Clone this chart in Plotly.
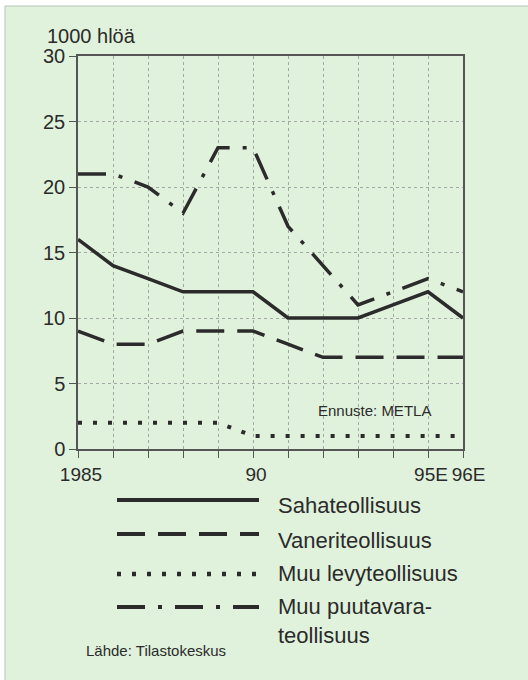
import plotly.graph_objects as go

years = list(range(1985, 1997))
tick_labels = ["1985", "", "", "", "", "90", "", "", "", "", "95E", "\u00a096E"]
saha = [16, 14, 13, 12, 12, 12, 10, 10, 10, 11, 12, 10]
vaneri = [9, 8, 8, 9, 9, 9, 8, 7, 7, 7, 7, 7]
muu_levy = [2, 2, 2, 2, 2, 1, 1, 1, 1, 1, 1, 1]
muu_puu = [21, 21, 20, 18, 23, 23, 17, 14, 11, 12, 13, 12]
names = ["Sahateollisuus", "Vaneriteollisuus", "Muu levyteollisuus", "Muu puutavara-<br>teollisuus"]

W, H = 528, 680
L, R, T, B = 78, 463, 56, 449
FONT = "Liberation Sans, Arial, sans-serif"
INK = "#2b2b2b"
GREEN = "#e0f2dc"
GRID = "#a4a8a4"

def px(x):
    return (x - L) / (R - L)

def py(y):
    return (B - y) / (B - T)

styles = [
    dict(width=3.5, dash="solid"),
    dict(width=3.5, dash="28px,13px"),
    dict(width=4, dash="4px,11px"),
    dict(width=3.5, dash="28px,13px,4px,13px"),
]
series = [saha, vaneri, muu_levy, muu_puu]

fig = go.Figure()
for vals, st, nm in zip(series, styles, names):
    fig.add_trace(go.Scatter(x=years, y=vals, mode="lines", name=nm,
                             line=dict(color=INK, width=st["width"], dash=st["dash"]),
                             showlegend=False, hoverinfo="skip"))

shapes = [
    dict(type="rect", xref="paper", yref="paper", x0=px(5), x1=px(540), y0=py(700), y1=py(6),
         fillcolor=GREEN, line=dict(color="#b8c4b6", width=1), layer="below"),
]
annotations = []

leg_y = [500, 534, 574, 607]
txt_y = [506, 540, 573, 605]
for i, (st, nm) in enumerate(zip(styles, names)):
    shapes.append(dict(type="line", xref="paper", yref="paper", x0=px(117), x1=px(259),
                       y0=py(leg_y[i]), y1=py(leg_y[i]),
                       line=dict(color=INK, width=st["width"] + 0.5, dash=st["dash"])))
    annotations.append(dict(xref="paper", yref="paper", x=px(276), y=py(txt_y[i]),
                            text=nm, showarrow=False, xanchor="left",
                            yanchor="top" if i == 3 else "middle",
                            yshift=13 if i == 3 else 0,
                            align="left",
                            font=dict(family=FONT, size=22, color=INK)))

annotations.append(dict(xref="paper", yref="paper", x=px(45), y=py(36), text="1000 hlöä",
                        showarrow=False, xanchor="left", yanchor="middle",
                        font=dict(family=FONT, size=20, color=INK)))
annotations.append(dict(xref="paper", yref="paper", x=px(316), y=py(410), text="Ennuste: METLA",
                        showarrow=False, xanchor="left", yanchor="middle",
                        font=dict(family=FONT, size=15, color=INK)))
annotations.append(dict(xref="paper", yref="paper", x=px(84), y=py(650), text="Lähde: Tilastokeskus",
                        showarrow=False, xanchor="left", yanchor="middle",
                        font=dict(family=FONT, size=15, color=INK)))

fig.update_layout(
    width=W, height=H,
    margin=dict(l=L, r=W - R, t=T, b=H - B),
    paper_bgcolor="white",
    plot_bgcolor="rgba(0,0,0,0)",
    shapes=shapes,
    annotations=annotations,
    font=dict(family=FONT, color=INK),
    hovermode=False,
)
axis_common = dict(showgrid=True, gridcolor=GRID, griddash="dot", gridwidth=1,
                   showline=True, linecolor="#555", linewidth=1.5, mirror=True,
                   ticks="outside", ticklen=7, tickcolor="#555", zeroline=False)
fig.update_xaxes(range=[1985, 1996], tickvals=years, ticktext=tick_labels, tickangle=0,
                 ticklabelshift=3, tickfont=dict(family=FONT, size=19, color=INK),
                 **axis_common)
fig.update_yaxes(range=[0, 30], tickvals=[0, 5, 10, 15, 20, 25, 30],
                 tickfont=dict(family=FONT, size=20, color=INK), **axis_common)

fig.write_html("out.html", config={"displayModeBar": False},
               post_script="document.body.style.margin='0';")
